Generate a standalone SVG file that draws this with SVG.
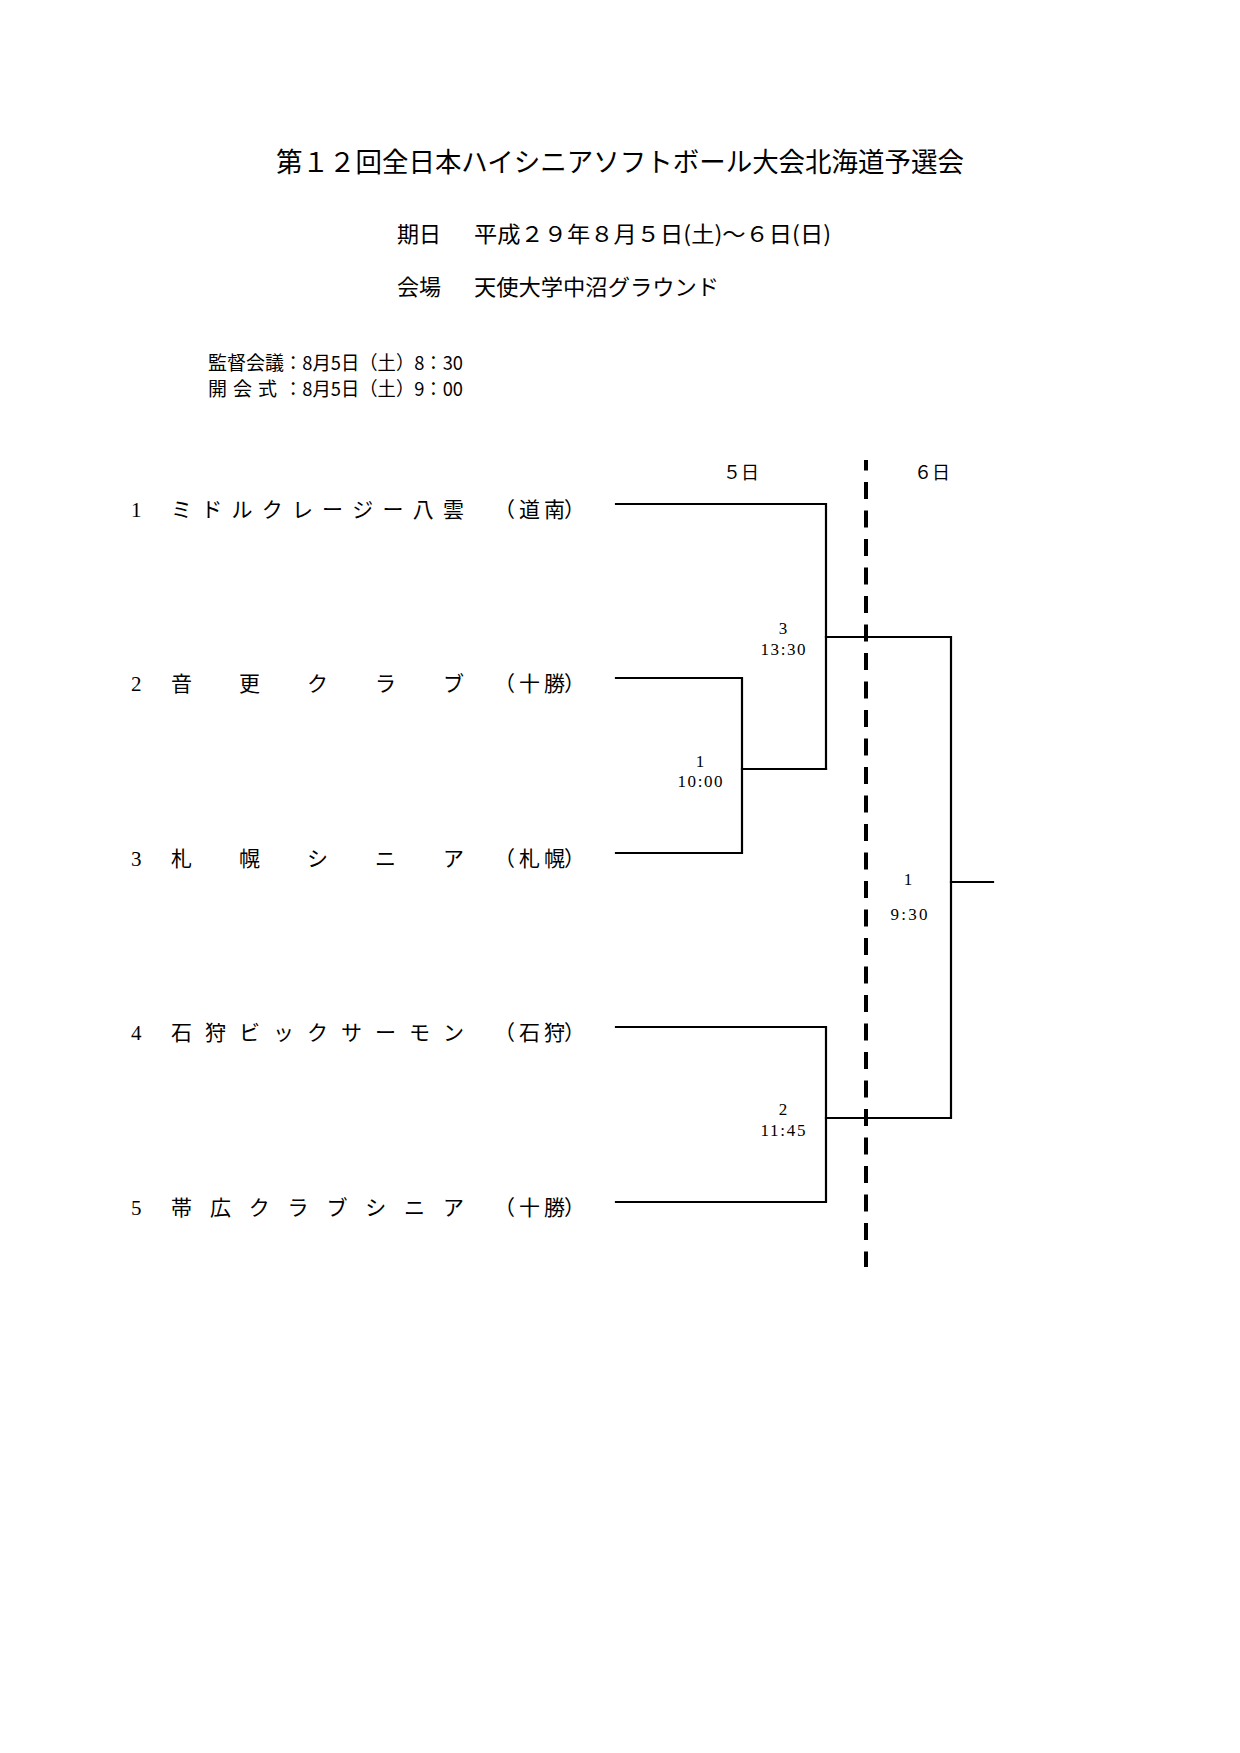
<svg xmlns="http://www.w3.org/2000/svg" width="1240" height="1753" viewBox="0 0 1240 1753">
<style>
.jp{font-family:"Liberation Serif","Noto Sans CJK JP",serif;fill:#000}
.gs{font-family:"Noto Sans CJK JP",sans-serif;fill:#000}
.num{font-family:"Liberation Serif",serif;fill:#000;font-size:21px}
.team{font-family:"Noto Sans CJK JP",sans-serif;fill:#000;font-size:21px}
.lbl{font-family:"Liberation Serif",serif;fill:#000;font-size:17px;text-anchor:middle}
.ln{stroke:#000;stroke-width:2.2;fill:none;stroke-linecap:square}
</style>
<rect width="1240" height="1753" fill="#fff"/>
<g id="header">
<text class="gs" x="276" y="172" font-size="27" textLength="688" lengthAdjust="spacingAndGlyphs">第１２回全日本ハイシニアソフトボール大会北海道予選会</text>
<text class="gs" x="397" y="242" font-size="22">期日</text>
<text class="gs" x="474" y="242" font-size="22" textLength="357" lengthAdjust="spacingAndGlyphs">平成２９年８月５日(土)～６日(日)</text>
<text class="gs" x="397" y="295" font-size="22">会場</text>
<text class="gs" x="474" y="295" font-size="22" textLength="245" lengthAdjust="spacingAndGlyphs">天使大学中沼グラウンド</text>
<text class="gs" x="208" y="370" font-size="19" textLength="76" lengthAdjust="spacingAndGlyphs">監督会議</text>
<text class="gs" x="284" y="370" font-size="19" textLength="179" lengthAdjust="spacingAndGlyphs">：8月5日（土）8：30</text>
<text class="gs" x="208 233 258" y="396" font-size="19">開会式</text>
<text class="gs" x="284" y="396" font-size="19" textLength="179" lengthAdjust="spacingAndGlyphs">：8月5日（土）9：00</text>
</g>
<g id="day-labels">
<text class="gs" x="723" y="479" font-size="18">５日</text>
<text class="gs" x="914" y="479" font-size="18">６日</text>
</g>
<g id="day-divider">
<line x1="866" y1="460" x2="866" y2="1267" stroke="#000" stroke-width="4" stroke-dasharray="17 11.5" stroke-dashoffset="6.5"/>
</g>
<g id="team1">
<text class="num" x="131" y="517">1</text>
<text class="team" x="171 201.2 231.4 261.7 291.9 322.1 352.3 382.6 412.8 443" y="517">ミドルクレージー八雲</text>
<text class="team" x="494 519 544 564" y="517">（道南）</text>
</g>
<g id="team2">
<text class="num" x="131" y="691">2</text>
<text class="team" x="171 239 307 375 443" y="691">音更クラブ</text>
<text class="team" x="494 519 544 564" y="691">（十勝）</text>
</g>
<g id="team3">
<text class="num" x="131" y="866">3</text>
<text class="team" x="171 239 307 375 443" y="866">札幌シニア</text>
<text class="team" x="494 519 544 564" y="866">（札幌）</text>
</g>
<g id="team4">
<text class="num" x="131" y="1040">4</text>
<text class="team" x="171 205 239 273 307 341 375 409 443" y="1040">石狩ビックサーモン</text>
<text class="team" x="494 519 544 564" y="1040">（石狩）</text>
</g>
<g id="team5">
<text class="num" x="131" y="1215">5</text>
<text class="team" x="171 209.9 248.7 287.6 326.4 365.3 404.1 443" y="1215">帯広クラブシニア</text>
<text class="team" x="494 519 544 564" y="1215">（十勝）</text>
</g>
<g id="connectors">
<polyline class="ln" points="616,504 826,504 826,769"/>
<polyline class="ln" points="616,678 742,678 742,853 616,853"/>
<line class="ln" x1="742" y1="769" x2="826" y2="769"/>
<polyline class="ln" points="616,1027 826,1027 826,1202 616,1202"/>
<polyline class="ln" points="826,637 951,637 951,1118 826,1118"/>
<line class="ln" x1="951" y1="882" x2="993" y2="882"/>
</g>
<g id="match1">
<text class="lbl" x="700" y="767">1</text>
<text class="lbl" x="700" y="787" textLength="45">10:00</text>
</g>
<g id="match3">
<text class="lbl" x="783" y="634">3</text>
<text class="lbl" x="783" y="655" textLength="45">13:30</text>
</g>
<g id="match2">
<text class="lbl" x="783" y="1115">2</text>
<text class="lbl" x="783" y="1136" textLength="45">11:45</text>
</g>
<g id="final">
<text class="lbl" x="908" y="885">1</text>
<text class="lbl" x="909" y="920" textLength="37">9:30</text>
</g>
</svg>
